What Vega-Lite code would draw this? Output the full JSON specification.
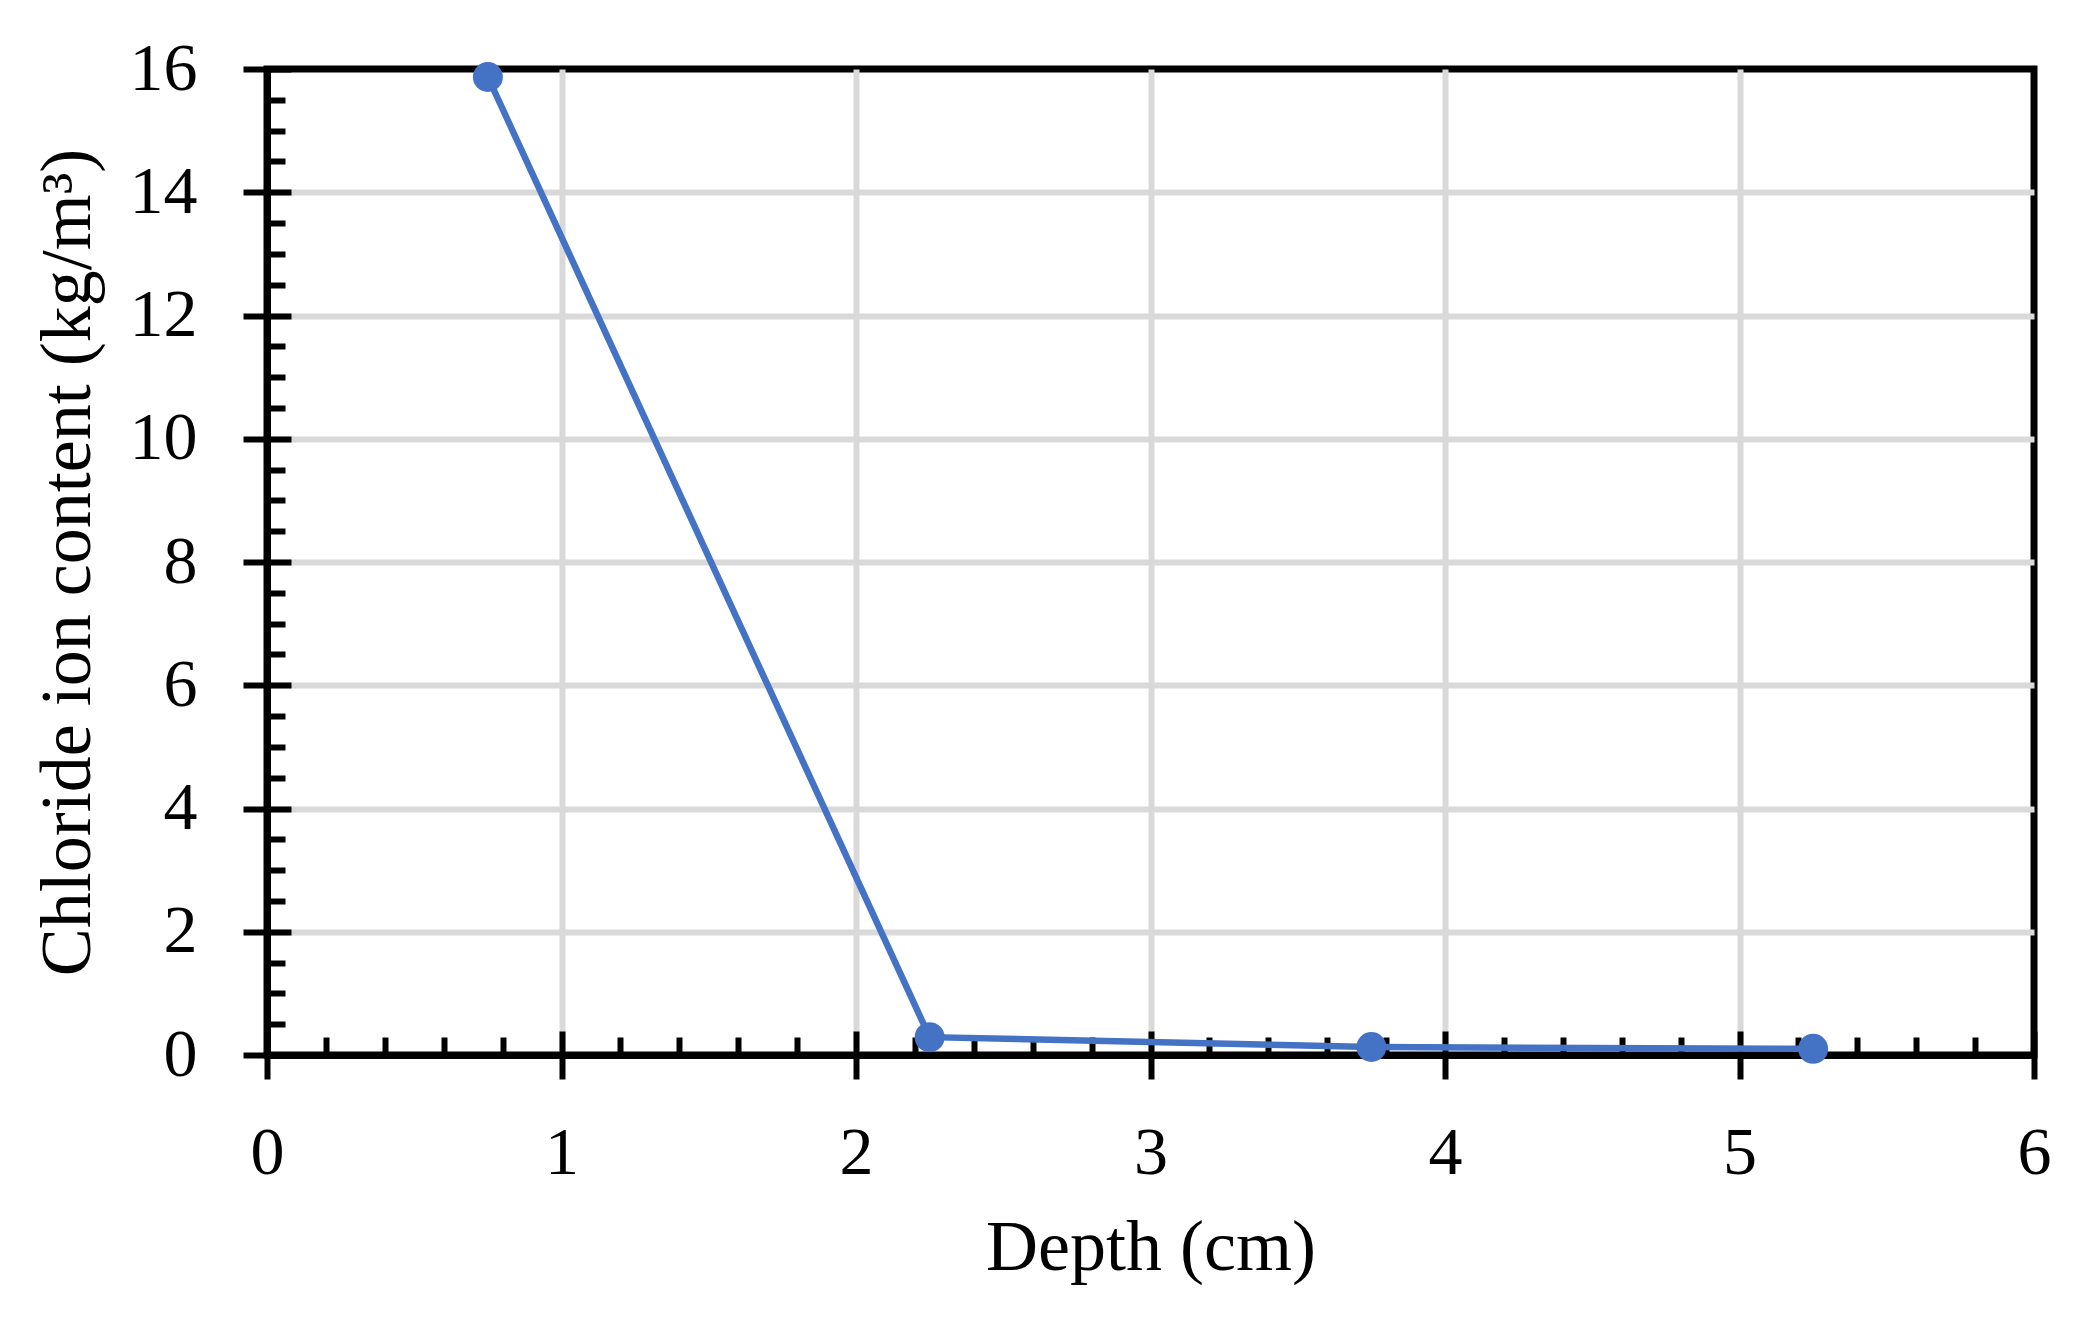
{
  "$schema": "https://vega.github.io/schema/vega-lite/v6.json",
  "width": 1767,
  "height": 986,
  "autosize": {"type": "none"},
  "padding": {"left": 267, "top": 69, "right": 57, "bottom": 268},
  "background": "white",
  "view": {"stroke": "black", "strokeWidth": 7},
  "config": {
    "view": {"stroke": "black", "strokeWidth": 7},
    "font": "Liberation Serif"
  },
  "data": {
    "values": [
      {"depth": 0.75, "chloride": 15.87},
      {"depth": 2.25, "chloride": 0.29},
      {"depth": 3.75, "chloride": 0.13},
      {"depth": 5.25, "chloride": 0.1}
    ]
  },
  "layer": [
    {
      "mark": {"type": "point", "opacity": 0},
      "encoding": {
        "x": {
          "field": "depth",
          "type": "quantitative",
          "scale": {"domain": [0, 6], "nice": false, "zero": false},
          "axis": {
            "orient": "bottom",
            "title": null,
            "values": [1, 2, 3, 4, 5],
            "domain": false,
            "labels": false,
            "ticks": false,
            "grid": true,
            "gridColor": "#d9d9d9",
            "gridWidth": 6
          }
        },
        "y": {
          "field": "chloride",
          "type": "quantitative",
          "scale": {"domain": [0, 16], "nice": false},
          "axis": {
            "orient": "left",
            "title": null,
            "values": [2, 4, 6, 8, 10, 12, 14],
            "domain": false,
            "labels": false,
            "ticks": false,
            "grid": true,
            "gridColor": "#d9d9d9",
            "gridWidth": 6
          }
        }
      }
    },
    {
      "mark": {"type": "point", "opacity": 0},
      "encoding": {
        "x": {
          "field": "depth",
          "type": "quantitative",
          "scale": {"domain": [0, 6], "nice": false, "zero": false},
          "axis": {
            "orient": "bottom",
            "title": null,
            "values": [0, 1, 2, 3, 4, 5, 6],
            "offset": -24,
            "domain": false,
            "labels": false,
            "grid": false,
            "tickSize": 24,
            "tickWidth": 6,
            "tickColor": "black"
          }
        },
        "y": {
          "field": "chloride",
          "type": "quantitative",
          "scale": {"domain": [0, 16], "nice": false},
          "axis": {
            "orient": "left",
            "title": null,
            "values": [0, 2, 4, 6, 8, 10, 12, 14, 16],
            "offset": -24,
            "domain": false,
            "labels": false,
            "grid": false,
            "tickSize": 24,
            "tickWidth": 6,
            "tickColor": "black"
          }
        }
      }
    },
    {
      "mark": {"type": "point", "opacity": 0},
      "encoding": {
        "x": {
          "field": "depth",
          "type": "quantitative",
          "scale": {"domain": [0, 6], "nice": false, "zero": false},
          "axis": {
            "orient": "bottom",
            "title": null,
            "values": [0.2, 0.4, 0.6, 0.8, 1.2, 1.4, 1.6, 1.8, 2.2, 2.4, 2.6, 2.8, 3.2, 3.4, 3.6, 3.8, 4.2, 4.4, 4.6, 4.8, 5.2, 5.4, 5.6, 5.8],
            "offset": -18,
            "domain": false,
            "labels": false,
            "grid": false,
            "tickSize": 18,
            "tickWidth": 6,
            "tickColor": "black"
          }
        },
        "y": {
          "field": "chloride",
          "type": "quantitative",
          "scale": {"domain": [0, 16], "nice": false},
          "axis": {
            "orient": "left",
            "title": null,
            "values": [0.5, 1, 1.5, 2.5, 3, 3.5, 4.5, 5, 5.5, 6.5, 7, 7.5, 8.5, 9, 9.5, 10.5, 11, 11.5, 12.5, 13, 13.5, 14.5, 15, 15.5],
            "offset": -18,
            "domain": false,
            "labels": false,
            "grid": false,
            "tickSize": 18,
            "tickWidth": 6,
            "tickColor": "black"
          }
        }
      }
    },
    {
      "mark": {
        "type": "line",
        "color": "#4472C4",
        "strokeWidth": 6.5,
        "point": {"filled": true, "size": 900, "color": "#4472C4", "opacity": 1}
      },
      "encoding": {
        "x": {
          "field": "depth",
          "type": "quantitative",
          "scale": {"domain": [0, 6], "nice": false, "zero": false},
          "axis": {
            "orient": "bottom",
            "title": "Depth (cm)",
            "values": [0, 1, 2, 3, 4, 5, 6],
            "format": "d",
            "domain": true,
            "domainColor": "black",
            "domainWidth": 7,
            "tickSize": 24,
            "tickWidth": 6,
            "tickColor": "black",
            "labelFont": "Liberation Serif",
            "labelFontSize": 68,
            "labelColor": "black",
            "labelPadding": 40,
            "labelFlush": false,
            "titleFont": "Liberation Serif",
            "titleFontSize": 72,
            "titleFontWeight": "normal",
            "titleColor": "black",
            "titlePadding": 25,
            "grid": false
          }
        },
        "y": {
          "field": "chloride",
          "type": "quantitative",
          "scale": {"domain": [0, 16], "nice": false},
          "axis": {
            "orient": "left",
            "title": "Chloride ion content (kg/m³)",
            "values": [0, 2, 4, 6, 8, 10, 12, 14, 16],
            "format": "d",
            "domain": true,
            "domainColor": "black",
            "domainWidth": 7,
            "tickSize": 24,
            "tickWidth": 6,
            "tickColor": "black",
            "labelFont": "Liberation Serif",
            "labelFontSize": 68,
            "labelColor": "black",
            "labelPadding": 46,
            "labelFlush": false,
            "titleFont": "Liberation Serif",
            "titleFontSize": 72,
            "titleFontWeight": "normal",
            "titleColor": "black",
            "titlePadding": 25,
            "grid": false
          }
        }
      }
    }
  ],
  "resolve": {"axis": {"x": "independent", "y": "independent"}}
}
